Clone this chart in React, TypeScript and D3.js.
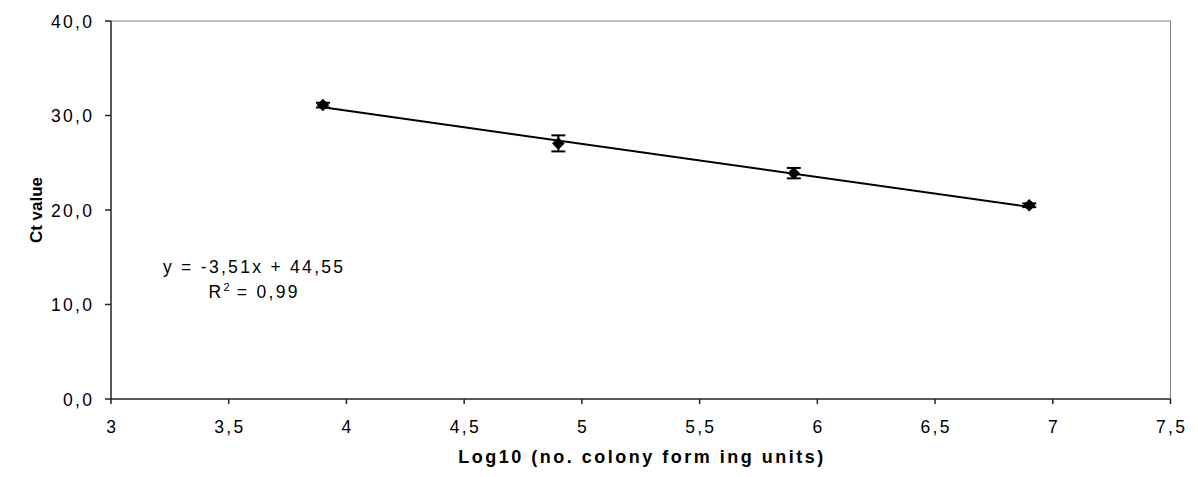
import React from "react";
import * as d3 from "d3";

const xValues = [3.9, 4.9, 5.9, 6.9];
const ctValues = [31.1, 27.05, 23.9, 20.5];
const ctErrors = [0.25, 0.85, 0.55, 0.2];
const xTicks = [3, 3.5, 4, 4.5, 5, 5.5, 6, 6.5, 7, 7.5];
const yTicks = [0, 10, 20, 30, 40];
const slope = -3.51;
const intercept = 44.55;
const eqText = "y = -3,51x + 44,55";
const r2Value = "0,99";
const xTitle = "Log10 (no. colony form ing units)";
const yTitle = "Ct value";

const W = 1198;
const H = 477;
const M = { left: 111, right: 1170.5, top: 21, bottom: 399 };
const FONT = "'Liberation Sans', Arial, sans-serif";
const FS = 17.5;
const LS = 2.3;

const fmtX = (v: number) => String(v).replace(".", ",");
const fmtY = (v: number) => v.toFixed(1).replace(".", ",");

export default function App() {
  const x = d3.scaleLinear().domain([3, 7.5]).range([M.left, M.right]);
  const y = d3.scaleLinear().domain([0, 40]).range([M.bottom, M.top]);
  const lineGen = d3.line<number>().x((d) => x(d)).y((d) => y(slope * d + intercept));
  const trend = lineGen([xValues[0], xValues[xValues.length - 1]]);
  const diamond = d3.symbol().type(d3.symbolDiamond2).size(100)();

  return (
    <svg width={W} height={H} style={{ position: "absolute", left: 0, top: 0, background: "#fff" }}>
      <rect x={0} y={0} width={W} height={H} fill="#fff" />
      <line x1={M.left} x2={M.right} y1={M.top} y2={M.top} stroke="#808080" strokeWidth={1} />
      <line x1={M.right} x2={M.right} y1={M.top} y2={M.bottom} stroke="#808080" strokeWidth={1} />
      <line x1={M.left} x2={M.left} y1={M.top} y2={M.bottom} stroke="#222" strokeWidth={1.5} />
      <line x1={M.left} x2={M.right} y1={M.bottom} y2={M.bottom} stroke="#222" strokeWidth={1.5} />
      {yTicks.map((t) => (
        <g key={"y" + t}>
          <line x1={M.left - 6} x2={M.left} y1={y(t)} y2={y(t)} stroke="#222" strokeWidth={1.5} />
          <text
            x={M.left - 19 + LS}
            y={y(t) + 6.5}
            textAnchor="end"
            fontFamily={FONT}
            fontSize={FS}
            letterSpacing={LS}
            fill="#000"
          >
            {fmtY(t)}
          </text>
        </g>
      ))}
      {xTicks.map((t) => (
        <g key={"x" + t}>
          <line x1={x(t)} x2={x(t)} y1={M.bottom} y2={M.bottom + 5} stroke="#222" strokeWidth={1.5} />
          <text
            x={x(t) + LS / 2}
            y={433}
            textAnchor="middle"
            fontFamily={FONT}
            fontSize={FS}
            letterSpacing={LS}
            fill="#000"
          >
            {fmtX(t)}
          </text>
        </g>
      ))}
      <text
        x={(M.left + M.right) / 2 + 1.25}
        y={463}
        textAnchor="middle"
        fontFamily={FONT}
        fontSize={18}
        fontWeight="bold"
        letterSpacing={2.5}
        fill="#000"
      >
        {xTitle}
      </text>
      <text
        transform={`translate(42,${(M.top + M.bottom) / 2}) rotate(-90)`}
        textAnchor="middle"
        fontFamily={FONT}
        fontSize={17}
        fontWeight="bold"
        fill="#000"
      >
        {yTitle}
      </text>
      <path d={trend || ""} fill="none" stroke="#000" strokeWidth={2} />
      {xValues.map((xv, i) => {
        const cx = x(xv);
        const y1 = y(ctValues[i] + ctErrors[i]);
        const y2 = y(ctValues[i] - ctErrors[i]);
        return (
          <g key={"e" + i} stroke="#000" strokeWidth={2}>
            <line x1={cx} x2={cx} y1={y1} y2={y2} />
            <line x1={cx - 7} x2={cx + 7} y1={y1} y2={y1} />
            <line x1={cx - 7} x2={cx + 7} y1={y2} y2={y2} />
          </g>
        );
      })}
      {xValues.map((xv, i) => (
        <path key={"m" + i} d={diamond || ""} transform={`translate(${x(xv)},${y(ctValues[i])})`} fill="#000" />
      ))}
      <text x={253 + LS / 2} y={273} textAnchor="middle" fontFamily={FONT} fontSize={FS} letterSpacing={LS} fill="#000">
        {eqText}
      </text>
      <text x={253 + LS / 2} y={298} textAnchor="middle" fontFamily={FONT} fontSize={FS} letterSpacing={LS} fill="#000">
        R<tspan fontSize={11} dy={-7} letterSpacing={0}>2</tspan>
        <tspan dy={7}>{" = " + r2Value}</tspan>
      </text>
    </svg>
  );
}
